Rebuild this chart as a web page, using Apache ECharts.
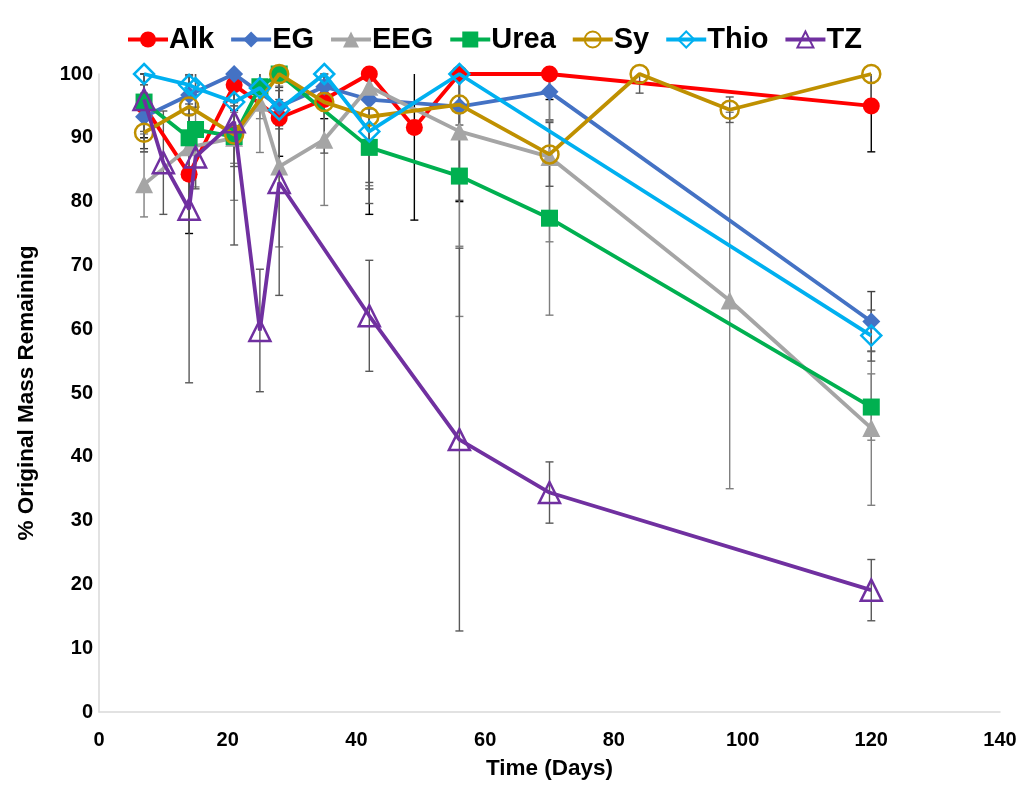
<!DOCTYPE html>
<html>
<head>
<meta charset="utf-8">
<script src="https://cdn.jsdelivr.net/npm/echarts@6/dist/echarts.min.js"></script>
<style>
  html, body { margin: 0; padding: 0; background: #ffffff; }
  #chart { width: 1023px; height: 785px; }
</style>
</head>
<body>
<div id="chart"></div>
<script>
// Mass loss over time: % of original mass remaining, mean ± error per formulation
const alkDays  = [7, 14, 21, 28, 35, 42, 49, 56, 70, 120];
const alkMass  = [95, 84.3, 98.3, 93.1, 96.0, 100, 91.6, 100, 100, 95.0];
const alkErr   = [5, 9.3, 4, 6, 3, 22, 14.5, 20, 4, 7.2];

const egDays   = [7, 14, 21, 28, 35, 42, 56, 70, 120];
const egMass   = [93.3, 96.7, 100, 94.9, 98.0, 96.0, 94.9, 97.2, 61.2];
const egErr    = [5, 3, 5, 3, 2, 14, 5, 4.4, 4.7];

const eegDays  = [7, 14, 21, 25, 28, 35, 42, 56, 70, 98, 120];
const eegMass  = [82.7, 88.5, 90, 95.5, 85.5, 89.7, 98, 91, 87, 64.5, 44.5];
const eegErr   = [5.1, 5, 4, 7.8, 12.6, 10.3, 16, 29, 13.3, 29.5, 12.1];

const ureaDays = [7, 14, 15, 21, 25, 28, 42, 56, 70, 120];
const ureaMass = [95.6, 90, 91.3, 90.2, 98, 100, 88.5, 84, 77.4, 47.8];
const ureaErr  = [5, 6, 9, 10, 5, 7, 6, 11, 15.2, 5.2];

const syDays   = [7, 14, 21, 28, 35, 42, 56, 70, 84, 98, 120];
const syMass   = [90.8, 94.9, 90.5, 100, 95.6, 93.3, 95.2, 87.4, 100, 94.4, 100];
const syErr    = [3, 5, 5, 4, 8, 13.6, 15, 5, 3, 2, 5];

const thioDays = [7, 14, 15, 21, 25, 28, 35, 42, 56, 120];
const thioMass = [100, 98.3, 97.8, 95.6, 97.8, 94.4, 100, 91, 100, 59];
const thioErr  = [3, 3, 3, 4, 3, 3, 2, 8, 8, 4];

const tzDays   = [7, 10, 14, 15, 21, 25, 28, 42, 56, 70, 120];
const tzMass   = [96, 86.1, 78.8, 87, 92.5, 59.8, 83, 62.1, 42.7, 34.4, 19.1];
const tzErr    = [5, 8.1, 27.2, 5, 19.3, 9.6, 17.7, 8.7, 30, 4.8, 4.8];

const yTicks = [0, 10, 20, 30, 40, 50, 60, 70, 80, 90, 100];
const xTicks = [0, 20, 40, 60, 80, 100, 120, 140];

// Series appearance
const groups = [
  { name: 'Alk',  days: alkDays,  mass: alkMass,  err: alkErr,  color: '#FF0000', symbol: 'circle',   size: 17, hollow: false, errColor: '#000000' },
  { name: 'EG',   days: egDays,   mass: egMass,   err: egErr,   color: '#4472C4', symbol: 'diamond',  size: 18, hollow: false, errColor: '#404040' },
  { name: 'EEG',  days: eegDays,  mass: eegMass,  err: eegErr,  color: '#A5A5A5', symbol: 'triangle', size: 18, hollow: false, errColor: '#808080' },
  { name: 'Urea', days: ureaDays, mass: ureaMass, err: ureaErr, color: '#00B050', symbol: 'rect',     size: 17, hollow: false, errColor: '#7F7F7F' },
  { name: 'Sy',   days: syDays,   mass: syMass,   err: syErr,   color: '#BF9000', symbol: 'circle',   size: 18, hollow: true,  errColor: '#595959' },
  { name: 'Thio', days: thioDays, mass: thioMass, err: thioErr, color: '#00B0F0', symbol: 'diamond',  size: 20, hollow: true,  errColor: '#595959' },
  { name: 'TZ',   days: tzDays,   mass: tzMass,   err: tzErr,   color: '#7030A0', symbol: 'triangle', size: 21, hollow: true,  errColor: '#595959' }
];

const Y_MAX = 100, Y_MIN = 0;

function errorBarRenderer(stroke) {
  return function (params, api) {
    const t = api.value(0);
    const lo = api.value(1), hi = api.value(2);
    const capLo = api.value(3), capHi = api.value(4);
    const pTop = api.coord([t, hi]);
    const pBot = api.coord([t, lo]);
    const half = 4;
    const style = { stroke: stroke, lineWidth: 1.4 };
    const children = [
      { type: 'line', shape: { x1: pTop[0], y1: pTop[1], x2: pBot[0], y2: pBot[1] }, style: style }
    ];
    if (capHi) children.push({ type: 'line', shape: { x1: pTop[0] - half, y1: pTop[1], x2: pTop[0] + half, y2: pTop[1] }, style: style });
    if (capLo) children.push({ type: 'line', shape: { x1: pBot[0] - half, y1: pBot[1], x2: pBot[0] + half, y2: pBot[1] }, style: style });
    return { type: 'group', children: children };
  };
}

const series = [];
// error bars beneath the lines
groups.forEach(function (g) {
  series.push({
    type: 'custom',
    name: g.name + ' error',
    renderItem: errorBarRenderer(g.errColor),
    data: g.days.map(function (d, i) {
      const up = g.mass[i] + g.err[i];
      const dn = g.mass[i] - g.err[i];
      return [d, Math.max(Y_MIN, dn), Math.min(Y_MAX, up), dn >= Y_MIN ? 1 : 0, up <= Y_MAX ? 1 : 0];
    }),
    z: 1,
    silent: true,
    tooltip: { show: false }
  });
});
groups.forEach(function (g, gi) {
  series.push({
    type: 'line',
    name: g.name,
    data: g.days.map(function (d, i) { return [d, g.mass[i]]; }),
    symbol: g.symbol,
    symbolSize: g.size,
    showAllSymbol: true,
    color: g.color,
    lineStyle: { color: g.color, width: 3.8 },
    itemStyle: g.hollow
      ? { color: 'rgba(255,255,255,0)', borderColor: g.color, borderWidth: 2.5 }
      : { color: g.color, borderWidth: 0 },
    emphasis: { disabled: true },
    z: 2 + gi
  });
});

const chart = echarts.init(document.getElementById('chart'), null, { renderer: 'canvas' });
chart.setOption({
  animation: false,
  backgroundColor: '#ffffff',
  textStyle: { fontFamily: 'Liberation Sans, Arial, sans-serif' },
  legend: {
    data: groups.map(function (g) { return g.name; }),
    top: 20,
    left: 121,
    itemWidth: 40,
    itemHeight: 20,
    itemGap: 15,
    selectedMode: false,
    lineStyle: { width: 4 },
    textStyle: { fontSize: 29, fontWeight: 'bold', color: '#000000', padding: [0, 0, 0, -4] }
  },
  grid: { left: 99, right: 23, top: 74, bottom: 69, containLabel: false },
  xAxis: {
    type: 'value',
    min: xTicks[0],
    max: xTicks[xTicks.length - 1],
    interval: 20,
    name: 'Time (Days)',
    nameLocation: 'middle',
    nameGap: 45,
    nameTextStyle: { fontSize: 22.5, fontWeight: 'bold', color: '#000000' },
    axisLine: { show: true, lineStyle: { color: '#D9D9D9', width: 1.5 } },
    axisTick: { show: false },
    splitLine: { show: false },
    axisLabel: { fontSize: 20, fontWeight: 'bold', color: '#000000', margin: 18 }
  },
  yAxis: {
    type: 'value',
    min: yTicks[0],
    max: yTicks[yTicks.length - 1],
    interval: 10,
    name: '% Original Mass Remaining',
    nameLocation: 'middle',
    nameRotate: 90,
    nameGap: 61,
    nameTextStyle: { fontSize: 22.5, fontWeight: 'bold', color: '#000000' },
    axisLine: { show: true, lineStyle: { color: '#D9D9D9', width: 1.5 } },
    axisTick: { show: false },
    splitLine: { show: false },
    axisLabel: { fontSize: 20, fontWeight: 'bold', color: '#000000', margin: 6 }
  },
  series: series
});
</script>
</body>
</html>
